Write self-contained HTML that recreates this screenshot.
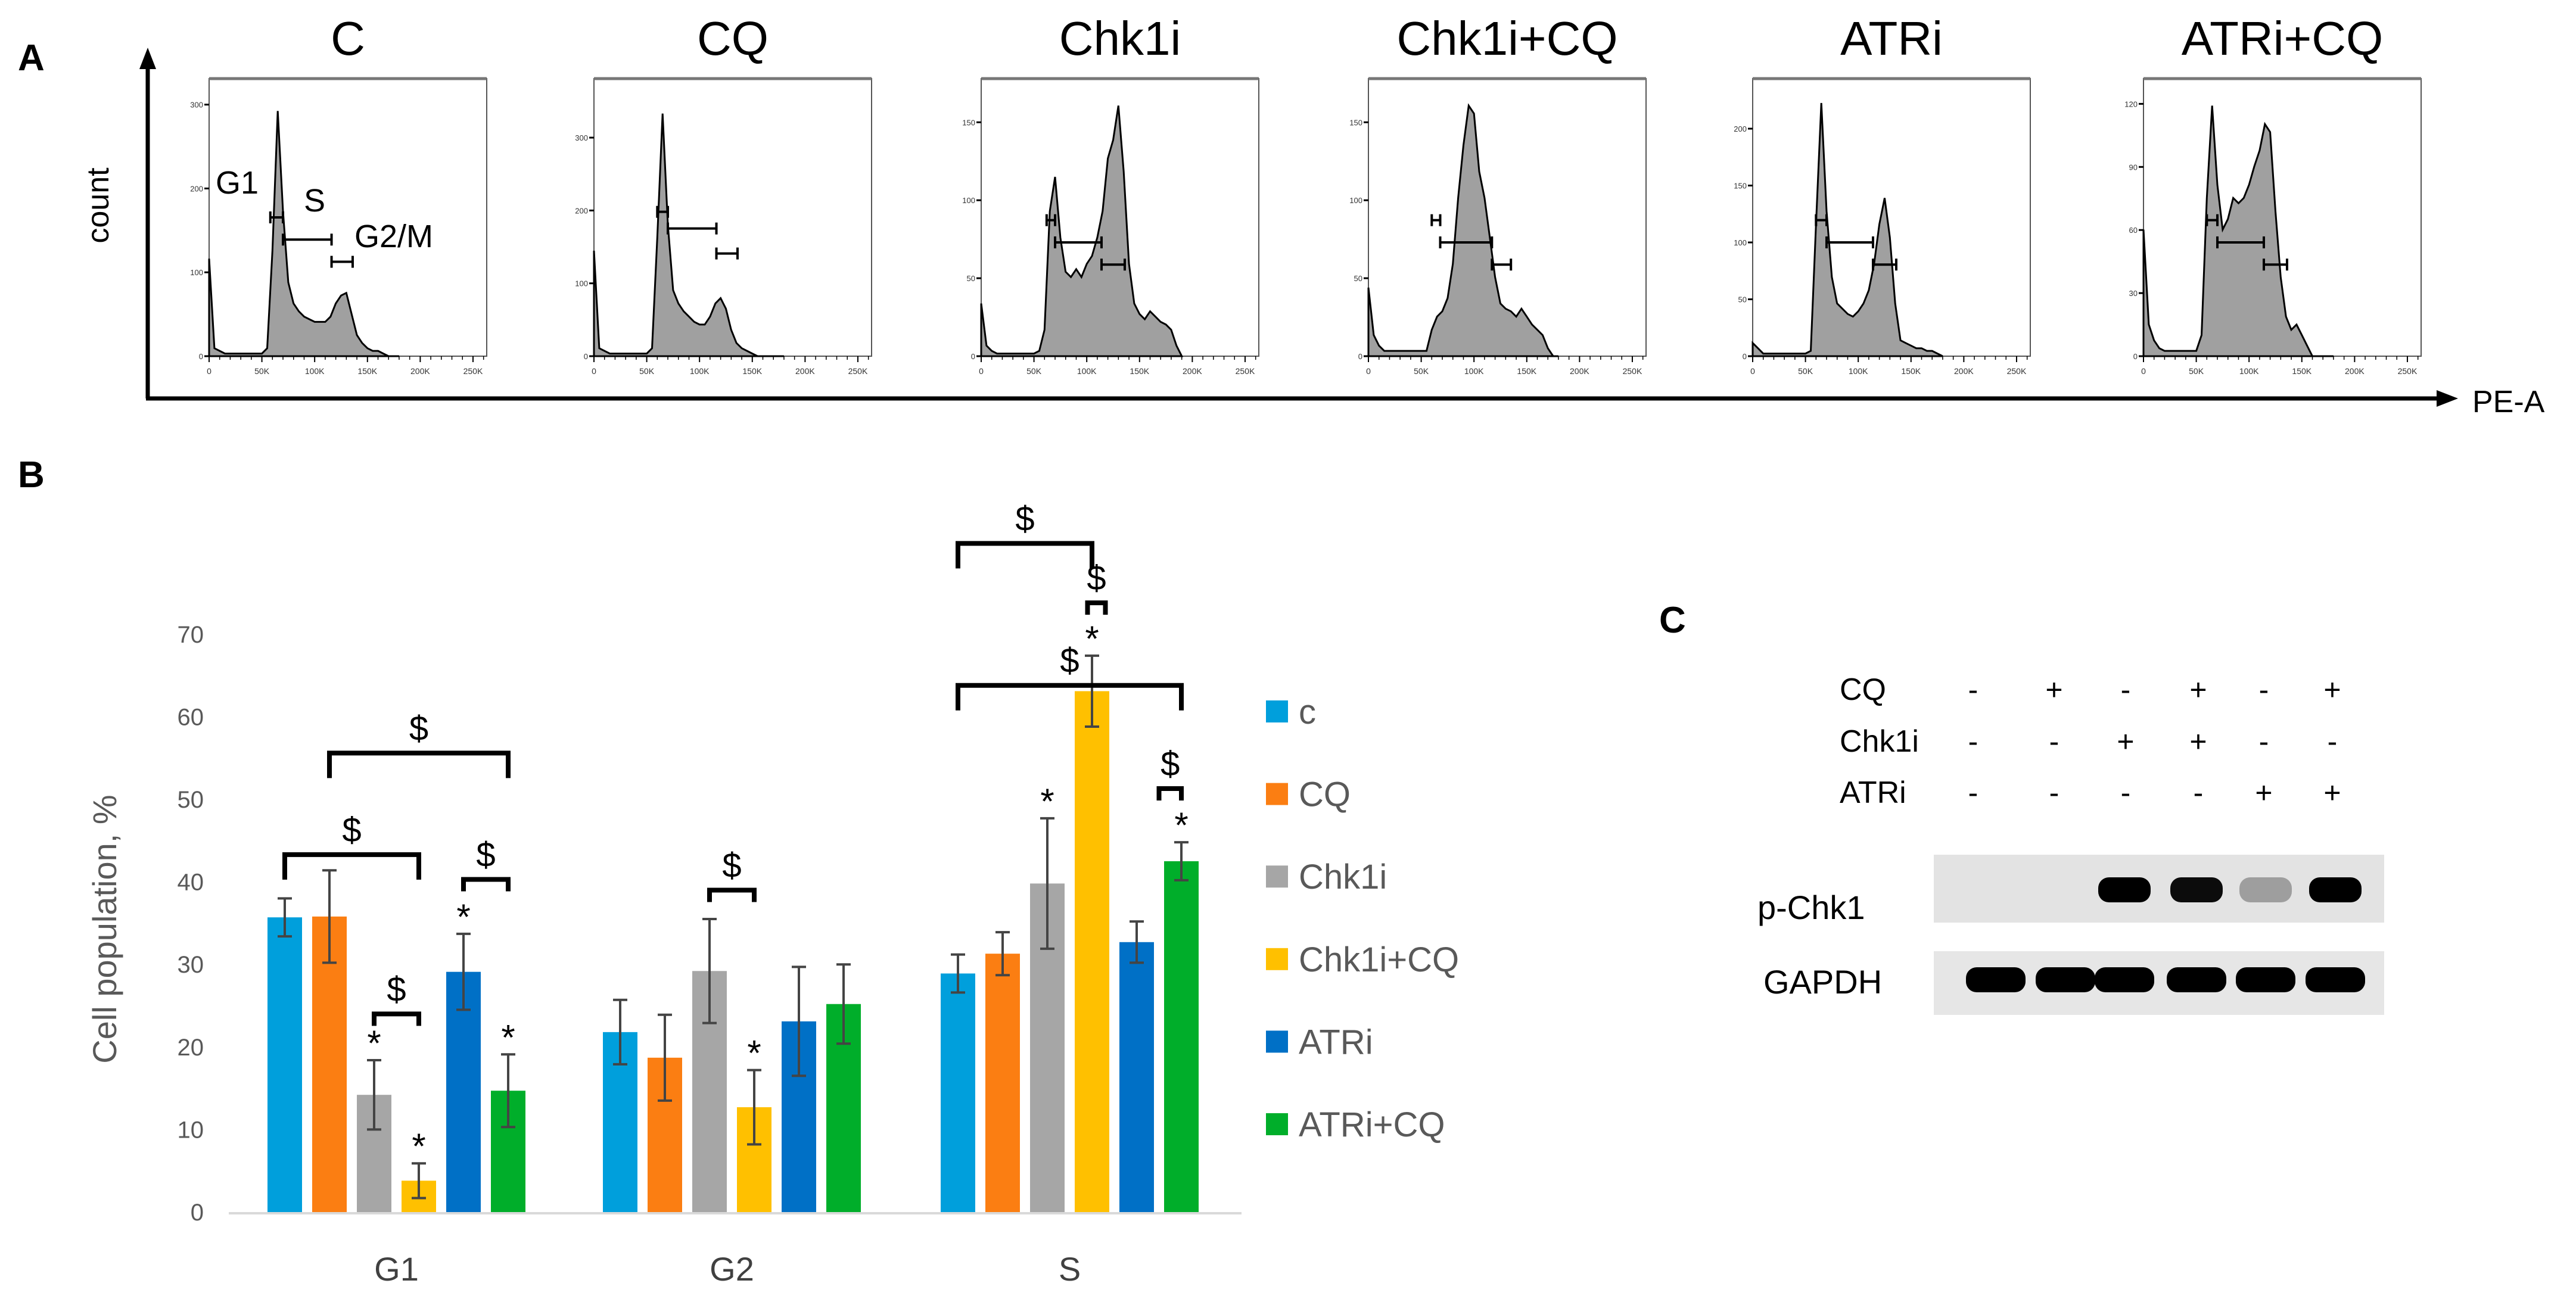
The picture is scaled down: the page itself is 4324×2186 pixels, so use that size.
<!DOCTYPE html>
<html><head><meta charset="utf-8"><style>
body{margin:0;background:#fff}
svg{display:block}
text{font-family:"Liberation Sans",sans-serif}
.n{font-family:"Liberation Sans Narrow","Liberation Sans",sans-serif}
</style></head><body>
<svg id="fig" width="4324" height="2186" viewBox="0 0 4324 2186" xmlns="http://www.w3.org/2000/svg">
<text x="30" y="118" font-size="62" font-weight="bold">A</text>
<text x="30" y="818" font-size="62" font-weight="bold">B</text>
<text x="2785" y="1062" font-size="62" font-weight="bold">C</text>
<g>
<line x1="248" y1="669" x2="248" y2="110" stroke="#000" stroke-width="7"/>
<polygon points="248,80 234,116 262,116" fill="#000"/>
<line x1="245" y1="669" x2="4095" y2="669" stroke="#000" stroke-width="7"/>
<polygon points="4126,669 4090,655 4090,683" fill="#000"/>
<text x="4150" y="692" font-size="52" class="n">PE-A</text>
<text transform="translate(182,345) rotate(-90)" text-anchor="middle" font-size="52">count</text>
</g>
<g id="hists"></g>
<g id="bars"></g>
<g id="blot"></g>
</svg>
<script>
const NS="http://www.w3.org/2000/svg";
function mk(tag,attrs,parent,txt){const e=document.createElementNS(NS,tag);for(const k in attrs)e.setAttribute(k,attrs[k]);if(txt!==undefined)e.textContent=txt;parent.appendChild(e);return e;}

/* ---------- Panel A data ---------- */
const histTitles=["C","CQ","Chk1i","Chk1i+CQ","ATRi","ATRi+CQ"];
const histYMax=[331,381,178,178,244,132];
const histYTicks=[[0,100,200,300],[0,100,200,300],[0,50,100,150],[0,50,100,150],[0,50,100,150,200],[0,30,60,90,120]];
const binStepK=5;
const histC=[37,3,2,1,1,1,1,1,1,1,1,3,40,93,55,28,20,17,15,14,13,13,13,15,20,23,24,16,8,5,3,2,2,1,0,0,0];
const histCQ=[40,3,2,1,1,1,1,1,1,1,1,3,45,92,50,25,20,17,15,13,12,12,15,20,22,18,10,5,3,2,1,0,0,0,0,0,0];
const histChk1i=[20,4,2,1,1,1,1,1,1,1,1,2,10,55,68,45,32,30,33,30,35,38,45,55,75,82,95,70,35,20,16,14,17,15,13,12,10,4,0];
const histChk1iCQ=[26,8,4,2,2,2,2,2,2,2,2,2,10,15,17,22,35,60,80,95,92,70,60,45,30,20,18,17,15,18,15,12,10,8,3,0,0];
const histATRi=[5,3,1,1,1,1,1,1,1,1,1,2,50,96,55,30,20,18,16,15,17,20,25,35,50,60,45,20,6,5,4,3,3,2,2,1,0];
const histATRiCQ=[48,12,6,3,2,2,2,2,2,2,2,8,60,95,65,48,52,60,58,60,65,72,78,88,85,55,30,15,10,12,8,4,0,0,0,0,0];
const histSeries=[histC,histCQ,histChk1i,histChk1iCQ,histATRi,histATRiCQ];
const gatesC=[[58,70,50],[70,116,42],[116,136,34]];
const gatesCQ=[[60,70,52],[70,116,46],[116,136,37]];
const gatesChk1i=[[62,70,49],[70,114,41],[114,136,33]];
const gatesChk1iCQ=[[60,68,49],[68,117,41],[117,135,33]];
const gatesATRi=[[60,70,49],[70,114,41],[114,136,33]];
const gatesATRiCQ=[[60,70,49],[70,114,41],[114,136,33]];
const gateSeries=[gatesC,gatesCQ,gatesChk1i,gatesChk1iCQ,gatesATRi,gatesATRiCQ];
const xTickLabels=["0","50K","100K","150K","200K","250K"];
const boxLeft=[351,997,1647,2297,2942,3598];

const H=document.getElementById('hists');
histTitles.forEach((t,p)=>{
  const g=mk('g',{},H);
  
  
  const x0=boxLeft[p], w=466, top=132, bot=598, h=bot-top;
  const X=k=>x0+k/263*w;
  const title=mk('text',{x:x0+w/2,y:92,'text-anchor':'middle','font-size':80,class:'n'},g,t);
  
  
  mk('rect',{x:x0,y:top,width:w,height:h,fill:'#fff',stroke:'#555','stroke-width':2},g);
  mk('line',{x1:x0,y1:top,x2:x0+w,y2:top,stroke:'#777','stroke-width':5},g);
  const s=histSeries[p];
  let d='M'+X(0)+','+bot;
  s.forEach((v,i)=>{d+=' L'+X(i*binStepK).toFixed(1)+','+(bot-v/100*h*0.95).toFixed(1);});
  d+=' L'+X((s.length-1)*binStepK)+','+bot+' Z';
  const area=mk('path',{d:d,fill:'#a0a0a0',stroke:'#000','stroke-width':3},g);
  
  
  histYTicks[p].forEach(v=>{
    const yy=bot-v/histYMax[p]*h;
    mk('line',{x1:x0-8,y1:yy,x2:x0,y2:yy,stroke:'#000','stroke-width':3},g);
    mk('text',{x:x0-10,y:yy+5,'text-anchor':'end','font-size':13,fill:'#333'},g,String(v));
  });
  xTickLabels.forEach((l,i)=>{
    const xx=X(i*50);
    mk('line',{x1:xx,y1:bot,x2:xx,y2:bot+10,stroke:'#000','stroke-width':2},g);
    mk('text',{x:xx,y:bot+30,'text-anchor':'middle','font-size':14,fill:'#333'},g,l);
  });
  for(let k=0;k<=260;k+=10){mk('line',{x1:X(k),y1:bot,x2:X(k),y2:bot+6,stroke:'#000','stroke-width':1.5},g);}
  gateSeries[p].forEach(gt=>{
    const gy=bot-gt[2]/100*h;
    const gl=mk('g',{stroke:'#000','stroke-width':4},g);
    
    
    mk('line',{x1:X(gt[0]),y1:gy,x2:X(gt[1]),y2:gy},gl);
    mk('line',{x1:X(gt[0]),y1:gy-10,x2:X(gt[0]),y2:gy+10},gl);
    mk('line',{x1:X(gt[1]),y1:gy-10,x2:X(gt[1]),y2:gy+10},gl);
  });
});
mk('text',{x:362,y:325,'font-size':54,class:'n'},H,'G1');
mk('text',{x:510,y:355,'font-size':54,class:'n'},H,'S');
mk('text',{x:595,y:415,'font-size':54,class:'n'},H,'G2/M');

/* ---------- Panel B data ---------- */
const phases=["G1","G2","S"];
const treatments=["c","CQ","Chk1i","Chk1i+CQ","ATRi","ATRi+CQ"];
const colors=["#009fdc","#fb7e12","#a6a6a6","#ffc000","#0070c6","#00ae2a"];
const valC=[35.7,21.8,28.9];
const valCQ=[35.8,18.7,31.3];
const valChk1i=[14.2,29.2,39.8];
const valChk1iCQ=[3.8,12.7,63.1];
const valATRi=[29.1,23.1,32.7];
const valATRiCQ=[14.7,25.2,42.5];
const errC=[2.3,3.9,2.3];
const errCQ=[5.6,5.2,2.6];
const errChk1i=[4.2,6.3,7.9];
const errChk1iCQ=[2.1,4.5,4.3];
const errATRi=[4.6,6.6,2.5];
const errATRiCQ=[4.4,4.8,2.3];
const yTicks=[0,10,20,30,40,50,60,70];
const vals=[valC,valCQ,valChk1i,valChk1iCQ,valATRi,valATRiCQ];
const errs=[errC,errCQ,errChk1i,errChk1iCQ,errATRi,errATRiCQ];
const stars=[[0,2],[0,3],[0,4],[0,5],[1,3],[2,2],[2,3],[2,5]];
const brackets=[[0,1,5,55.6],[0,0,3,43.3],[0,2,3,24],[0,4,5,40.3],[1,2,3,39],[2,0,3,81],[2,2.9,3.3,73.8],[2,0,5,63.8],[2,4.5,5,51.3]];

const B=document.getElementById('bars');
const y0=2035, pxPer=13.86;
const yv=v=>y0-v*pxPer;
const groupLeft=[449,1012,1579], pitch=75, bw=58;
const xc=(p,t)=>groupLeft[p]+t*pitch+bw/2;
yTicks.forEach(v=>{
  const tl=mk('text',{x:342,y:yv(v)+14,'text-anchor':'end','font-size':40,fill:'#595959'},B,String(v));
  
  
});
const axis=mk('line',{x1:384,y1:y0+2,x2:2084,y2:y0+2,stroke:'#d9d9d9','stroke-width':4},B);


const yt=mk('text',{transform:'translate(195,1560) rotate(-90)','text-anchor':'middle','font-size':56,fill:'#595959'},B,'Cell population, %');


phases.forEach((ph,p)=>{
  const cl=mk('text',{x:groupLeft[p]+2.5*pitch+bw/2,y:2150,'text-anchor':'middle','font-size':56,fill:'#404040',class:'n'},B,ph);
  
  
  treatments.forEach((tr,t)=>{
    const v=vals[t][p], e=errs[t][p];
    const r=mk('rect',{x:groupLeft[p]+t*pitch,y:yv(v),width:bw,height:v*pxPer,fill:colors[t]},B);
    
    
    const eg=mk('g',{stroke:'#444','stroke-width':4},B);
    
    
    const cx=xc(p,t);
    mk('line',{x1:cx,y1:yv(v+e),x2:cx,y2:yv(v-e)},eg);
    mk('line',{x1:cx-12,y1:yv(v+e),x2:cx+12,y2:yv(v+e)},eg);
    mk('line',{x1:cx-12,y1:yv(v-e),x2:cx+12,y2:yv(v-e)},eg);
  });
});
stars.forEach(s=>{
  const v=vals[s[1]][s[0]]+errs[s[1]][s[0]];
  const st=mk('text',{x:xc(s[0],s[1]),y:yv(v)-8,'text-anchor':'middle','font-size':60},B,'*');
  
  
});
brackets.forEach(b=>{
  const xa=xc(b[0],b[1]), xb=xc(b[0],b[2]), yy=yv(b[3]);
  const leg=(xb-xa)>120?42:20;
  const br=mk('path',{d:`M${xa},${yy+leg} L${xa},${yy} L${xb},${yy} L${xb},${yy+leg}`,fill:'none',stroke:'#000','stroke-width':8},B);
  
  
  const dl=mk('text',{x:(xa+xb)/2,y:yy-22,'text-anchor':'middle','font-size':58},B,'$');
  
  
});
treatments.forEach((tr,t)=>{
  const ly=1196+t*138.6;
  const sw=mk('rect',{x:2125,y:ly-20,width:37,height:37,fill:colors[t]},B);
  
  
  const lt=mk('text',{x:2180,y:ly+19,'font-size':58,fill:'#595959',class:'n'},B,tr);
  
  
});

/* ---------- Panel C ---------- */
const rowLabels=["CQ","Chk1i","ATRi"];
const rowCQ=["-","+","-","+","-","+"];
const rowChk1i=["-","-","+","+","-","-"];
const rowATRi=["-","-","-","-","+","+"];
const pChk1Intensity=[0,0,1,0.95,0.3,1];
const gapdhIntensity=[1,1,1,1,1,1];
const rows=[rowCQ,rowChk1i,rowATRi];
const laneX=[3312,3448,3568,3690,3800,3915];
const rowY=[1175,1262,1348];
const C=document.getElementById('blot');
rows.forEach((r,i)=>{
  mk('text',{x:3088,y:rowY[i],'font-size':52,class:'n'},C,rowLabels[i]);
  r.forEach((s,j)=>{mk('text',{x:laneX[j],y:rowY[i],'text-anchor':'middle','font-size':50},C,s);});
});
mk('text',{x:2950,y:1543,'font-size':56,class:'n'},C,'p-Chk1');
mk('text',{x:2960,y:1668,'font-size':56,class:'n'},C,'GAPDH');
const pb=mk('rect',{x:3246,y:1435,width:756,height:114,fill:'#e3e3e3'},C);


const gb=mk('rect',{x:3246,y:1597,width:756,height:107,fill:'#e6e6e6'},C);


const bandX=[3350,3467,3566,3687,3803,3920];
pChk1Intensity.forEach((a,j)=>{
  const e=mk('rect',{x:bandX[j]-44,y:1473,width:88,height:42,rx:18,fill:'#000','fill-opacity':a},C);
  
  
});
gapdhIntensity.forEach((a,j)=>{
  const e=mk('rect',{x:bandX[j]-50,y:1624,width:100,height:42,rx:18,fill:'#000','fill-opacity':a},C);
  
  
});
</script>
</body></html>
